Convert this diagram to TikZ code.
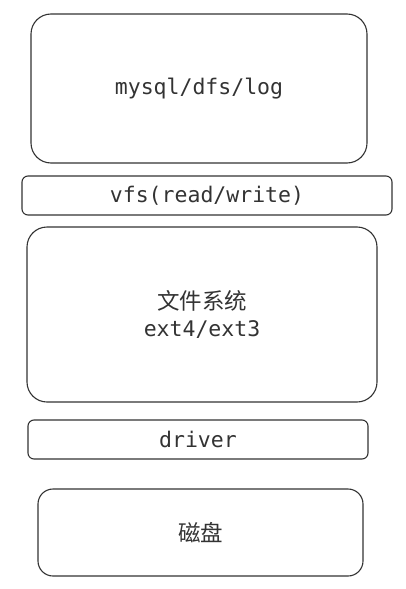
\documentclass[tikz,border=0pt]{standalone}
\usepackage{fontspec}
\newfontfamily\monofont{DejaVu Sans Mono}
\newfontfamily\cjkfont{Noto Sans CJK SC}
\definecolor{inkgray}{HTML}{333333}

\begin{document}
\begin{tikzpicture}[x=1pt, y=-1pt]
        \tikzstyle{every node}=[draw=inkgray, line width=1.1pt, text=inkgray, inner sep=0pt, font=\monofont\fontsize{21.5}{27}\selectfont]
        \tikzstyle{big layer}=[rounded corners=20pt]
        \tikzstyle{thin layer}=[rounded corners=6pt]
        \useasboundingbox (0,0) rectangle (405,589);
        \node [big layer, minimum width=336pt, minimum height=149pt] (app) at (199,88.5) {mysql/dfs/log};
        \node [thin layer, minimum width=370pt, minimum height=39pt] (vfs) at (207,195.5) {vfs(read/write)};
        \node [big layer, minimum width=350pt, minimum height=175pt, align=center] (fs) at (202,314.5) {{\cjkfont\fontsize{22.5}{27}\selectfont 文件系统}\\ext4/ext3};
        \node [thin layer, minimum width=340pt, minimum height=39pt] (driver) at (198,439.5) {driver};
        \node [big layer, rounded corners=15pt, minimum width=325pt, minimum height=87pt, font=\cjkfont\fontsize{22.5}{27}\selectfont] (disk) at (200.5,532.5) {磁盘};
    \end{tikzpicture}
\end{document}
